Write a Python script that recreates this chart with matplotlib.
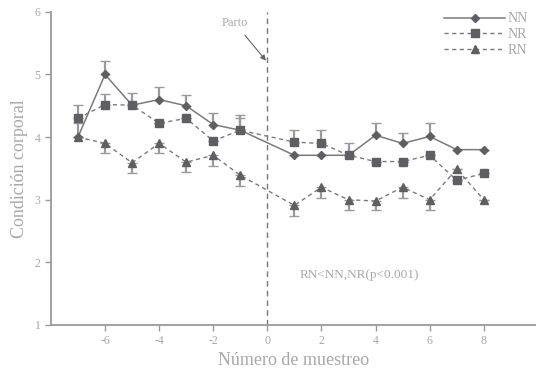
import matplotlib
matplotlib.use("Agg")
import matplotlib.pyplot as plt
from matplotlib.lines import Line2D

plt.rcParams['font.family'] = ['Liberation Serif', 'DejaVu Serif']
plt.rcParams['axes.unicode_minus'] = False

x = [-7, -6, -5, -4, -3, -2, -1, 1, 2, 3, 4, 5, 6, 7, 8]
nn = [4.0, 5.0, 4.51, 4.6, 4.5, 4.2, 4.11, 3.71, 3.71, 3.71, 4.03, 3.9, 4.01, 3.8, 3.8]
nn_err = [0.22, 0.22, 0.2, 0.2, 0.17, 0.18, 0.24, 0.0, 0.0, 0.0, 0.19, 0.16, 0.21, 0.0, 0.0]
nr = [4.3, 4.52, 4.51, 4.22, 4.3, 3.94, 4.11, 3.92, 3.9, 3.71, 3.61, 3.61, 3.71, 3.31, 3.42]
nr_err = [0.21, 0.17, 0.0, 0.0, 0.0, 0.0, 0.19, 0.2, 0.22, 0.2, 0.0, 0.0, 0.0, 0.0, 0.0]
rn = [4.0, 3.9, 3.59, 3.9, 3.6, 3.71, 3.39, 2.91, 3.2, 3.0, 2.98, 3.2, 3.0, 3.49, 3.0]
rn_err = [0.0, 0.16, 0.17, 0.16, 0.16, 0.17, 0.17, 0.17, 0.18, 0.16, 0.15, 0.18, 0.17, 0.0, 0.0]

xticks = [-6, -4, -2, 0, 2, 4, 6, 8]
yticks = [1, 2, 3, 4, 5, 6]

txt = '#a8a8a8'
mk = '#5f5f63'
ln = '#7a7a7a'
eb = '#9a9a9a'

fig = plt.figure(figsize=(5.36, 3.71), dpi=100)
ax = fig.add_axes([0.095, 0.124, 0.905, 0.844])

zeros = [0] * len(x)
for vals, err, low in [(nn, nn_err, False), (nr, nr_err, False), (rn, rn_err, True)]:
    yerr = [err, zeros] if low else [zeros, err]
    ax.errorbar(x, vals, yerr=yerr, fmt='none', ecolor=eb, elinewidth=1.6,
                capsize=3.5, capthick=1.0, zorder=2)

ax.plot(x, nn, '-', color=ln, lw=1.1, marker='D', ms=4, mfc=mk, mec=mk, zorder=3)
ax.plot(x, nr, '--', color=ln, lw=1.0, dashes=(3, 2.5), marker='s', ms=5.5, mfc=mk, mec=mk, zorder=3)
ax.plot(x, rn, '--', color=ln, lw=1.0, dashes=(3, 2.5), marker='^', ms=5.5, mfc=mk, mec=mk, zorder=3)

ax.axvline(0, ymin=0, ymax=1, color='#777777', lw=1.0, ls=(0, (4, 3)), zorder=1)

ax.set_xlim(-8, 9.93)
ax.set_ylim(1, 6)
ax.set_xticks(xticks)
ax.set_yticks(yticks)
for s in ['top', 'right']:
    ax.spines[s].set_visible(False)
for s in ['left', 'bottom']:
    ax.spines[s].set_color('#9a9a9a')
    ax.spines[s].set_linewidth(1.3)
ax.tick_params(colors='#9a9a9a', labelcolor=txt, labelsize=8.5, length=4, width=1)

ax.set_xlabel('Número de muestreo', color=txt, fontsize=13, labelpad=3)
ax.set_ylabel('Condición corporal', color=txt, fontsize=13, labelpad=5)

ax.annotate('Parto', xy=(-0.05, 5.22), xytext=(-1.2, 5.82), color=txt, fontsize=9,
            ha='center', va='center',
            arrowprops=dict(arrowstyle='-|>', color='#666666', lw=0.8,
                            shrinkA=3, shrinkB=0, mutation_scale=8))
ax.text(3.4, 1.8, 'RN<NN,NR(p<0.001)', color=txt, fontsize=9.5, ha='center', va='center')

handles = [
    Line2D([], [], color=ln, lw=1.1, ls='-', marker='D', ms=4, mfc=mk, mec=mk),
    Line2D([], [], color=ln, lw=1.0, ls='--', dashes=(3, 2.5), marker='s', ms=5.5, mfc=mk, mec=mk),
    Line2D([], [], color=ln, lw=1.0, ls='--', dashes=(3, 2.5), marker='^', ms=5.5, mfc=mk, mec=mk),
]
leg = ax.legend(handles, ['NN', 'NR', 'RN'], loc='upper right', bbox_to_anchor=(1.0, 1.025),
                frameon=False, fontsize=10, handlelength=4.4, handletextpad=0.15,
                labelspacing=0.2, borderaxespad=0.2)
for t in leg.get_texts():
    t.set_color(txt)

fig.savefig('out.png', dpi=100)
